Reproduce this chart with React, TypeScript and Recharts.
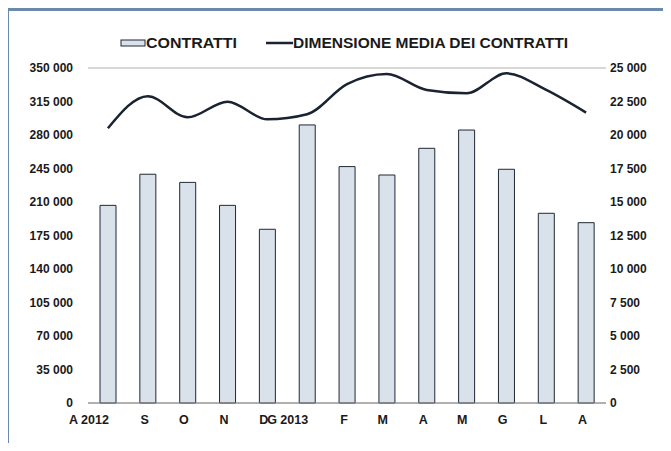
import React from "react";
import { ComposedChart, Bar, Line, XAxis, YAxis, CartesianGrid } from "recharts";

const months = ["A 2012", "S", "O", "N", "D", "G 2013", "F", "M", "A", "M", "G", "L", "A"];
const contratti = [206500, 239000, 230500, 206500, 181500, 290500, 247000, 238200, 266100, 285200, 244200, 198200, 188400];
const dimensioneMedia = [20500, 22900, 21320, 22490, 21170, 21550, 23800, 24550, 23360, 23110, 24600, 23360, 21670];
const leftTicks = [0, 35000, 70000, 105000, 140000, 175000, 210000, 245000, 280000, 315000, 350000];
const rightTicks = [0, 2500, 5000, 7500, 10000, 12500, 15000, 17500, 20000, 22500, 25000];
const boundaryTicks = [0, 1, 2, 3, 4, 5, 6, 7, 8, 9, 10, 11, 12, 13];

const data = months.map((m, i) => ({ idx: i, month: m, contratti: contratti[i], media: dimensioneMedia[i] }));

const fmt = (v: number) => String(v).replace(/\B(?=(\d{3})+(?!\d))/g, " ");
const FONT = "'Liberation Sans', Arial, sans-serif";
const TXT = "#1a1a1a";
const BAR_FILL = "#d9e1ea";
const BAR_STROKE = "#1f2836";
const LINE = "#1a2332";

const XTick = (props: any) => {
  const { x, y, payload } = props;
  return (
    <text x={x + 1} y={y} dy="0.71em" textAnchor="end" fontFamily={FONT} fontSize={12.5} fontWeight="bold" fill={TXT}>
      {months[payload.value]}
    </text>
  );
};

const EmptyTick = () => <g />;

export default function App() {
  return (
    <div style={{ position: "relative", width: 671, height: 451, margin: -8, background: "#fff", overflow: "hidden" }}>
      <div style={{ position: "absolute", left: 6, top: 8, width: 665, height: 3, background: "#6a89ad" }} />
      <div style={{ position: "absolute", left: 6, top: 8, width: 3, height: 443, background: "#6a89ad" }} />
      <div style={{ position: "absolute", left: 0, top: 0 }}>
        <ComposedChart width={671} height={451} data={data} margin={{ top: 68, right: 15, bottom: 18, left: 8 }} barCategoryGap={0}>
          <CartesianGrid vertical={false} stroke="#b0b0b0" strokeWidth={1} />
          <XAxis
            xAxisId="bounds"
            dataKey="idx"
            type="number"
            domain={[0, 13]}
            allowDataOverflow
            ticks={boundaryTicks}
            tick={<EmptyTick />}
            tickLine={{ stroke: "#8a8a8a" }}
            tickSize={3}
            axisLine={false}
            height={0}
            interval={0}
          />
          <XAxis
            dataKey="idx"
            type="category"
            tick={<XTick />}
            tickLine={false}
            tickSize={0}
            tickMargin={12}
            axisLine={{ stroke: "#8a8a8a" }}
            height={30}
            interval={0}
          />
          <YAxis
            yAxisId="left"
            domain={[0, 350000]}
            ticks={leftTicks}
            tickFormatter={fmt}
            axisLine={false}
            tickLine={false}
            tickSize={0}
            tickMargin={15}
            width={80}
            tick={{ fontFamily: FONT, fontSize: 12, fontWeight: "bold", fill: TXT }}
          />
          <YAxis
            yAxisId="right"
            orientation="right"
            domain={[0, 25000]}
            ticks={rightTicks}
            tickFormatter={fmt}
            axisLine={false}
            tickLine={false}
            tickSize={0}
            tickMargin={4}
            width={50}
            tick={{ fontFamily: FONT, fontSize: 12, fontWeight: "bold", fill: TXT, textAnchor: "start" }}
          />
          <Bar yAxisId="left" dataKey="contratti" barSize={16} fill={BAR_FILL} stroke={BAR_STROKE} strokeWidth={1} isAnimationActive={false} />
          <Line yAxisId="right" dataKey="media" type="monotone" stroke={LINE} strokeWidth={2.5} dot={false} activeDot={false} isAnimationActive={false} />
        </ComposedChart>
      </div>
      <div style={{ position: "absolute", left: 0, top: 0, width: 671, height: 80, pointerEvents: "none" }}>
        <svg width={671} height={80}>
          <rect x={121} y={40} width={24} height={6} fill={BAR_FILL} stroke={BAR_STROKE} strokeWidth={1} />
          <text x={146} y={43} dy="0.35em" fontFamily={FONT} fontSize={14} fontWeight="bold" fill={TXT} textLength={91} lengthAdjust="spacingAndGlyphs">CONTRATTI</text>
          <line x1={266} y1={43} x2={293} y2={43} stroke={LINE} strokeWidth={2.5} />
          <text x={293} y={43} dy="0.35em" fontFamily={FONT} fontSize={14} fontWeight="bold" fill={TXT} textLength={275} lengthAdjust="spacingAndGlyphs">DIMENSIONE MEDIA DEI CONTRATTI</text>
        </svg>
      </div>
    </div>
  );
}
